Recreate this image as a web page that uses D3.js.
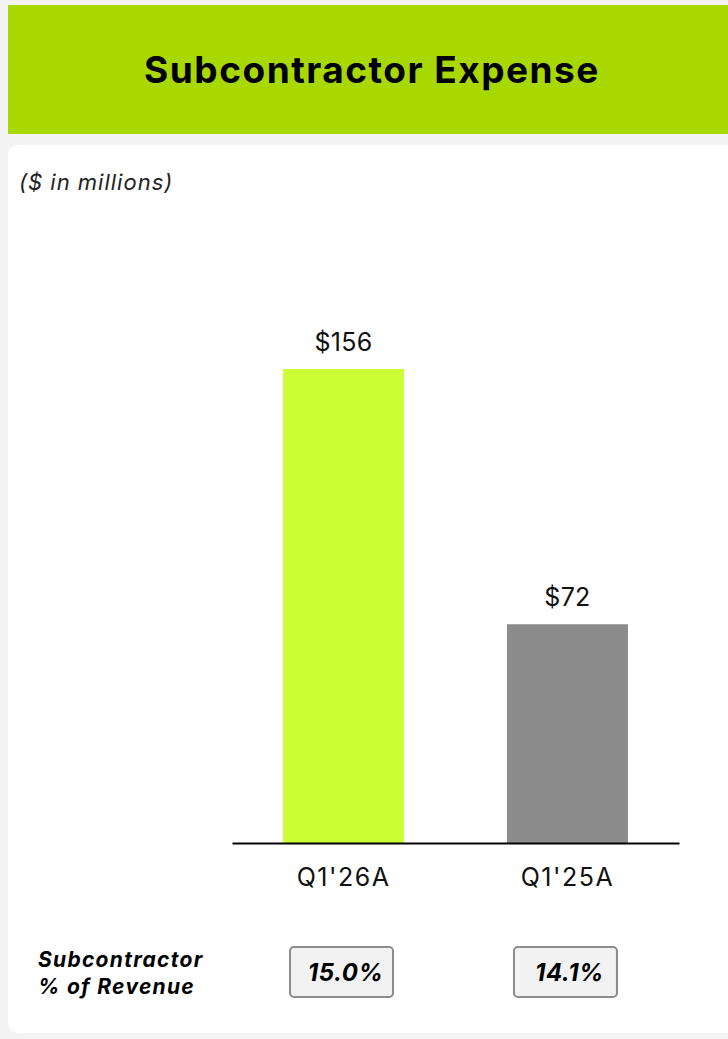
<!DOCTYPE html>
<html>
<head>
<meta charset="utf-8">
<script src="https://cdn.jsdelivr.net/npm/d3@7"></script>
<style>
  html, body { margin: 0; padding: 0; background: #f4f4f4; }
  svg { display: block; }
</style>
</head>
<body>
<script>
const width = 728;
const height = 1039;
const fontFamily = "Inter, 'Noto Sans', sans-serif";

const categories = ["Q1'26A", "Q1'25A"];
const values = [156, 72];
const valueLabels = ["$156", "$72"];
const pctOfRevenue = ["15.0%", "14.1%"];
const barColors = ["#ccff33", "#8c8c8c"];

const headerColor = "#a8d800";

const svg = d3.select("body").append("svg")
    .attr("width", width)
    .attr("height", height);

// header band
svg.append("rect")
    .attr("x", 8).attr("y", 5)
    .attr("width", width - 8).attr("height", 129)
    .attr("fill", headerColor);

svg.append("text")
    .attr("x", 372).attr("y", 83)
    .attr("text-anchor", "middle")
    .attr("font-family", fontFamily)
    .attr("font-weight", 700)
    .attr("font-size", 37)
    .attr("letter-spacing", 1.5)
    .attr("fill", "#000")
    .text("Subcontractor Expense");

// white card
svg.append("rect")
    .attr("x", 8).attr("y", 145)
    .attr("width", width + 10).attr("height", 888)
    .attr("rx", 10)
    .attr("fill", "#fff");

svg.append("text")
    .attr("x", 19).attr("y", 190)
    .attr("font-family", fontFamily)
    .attr("font-style", "italic")
    .attr("font-size", 22)
    .attr("letter-spacing", 1)
    .attr("fill", "#222")
    .text("($ in millions)");

// chart scales
const baseline = 843;
const xScale = d3.scaleBand()
    .domain(categories)
    .range([232, 679])
    .paddingInner(0.46)
    .paddingOuter(0.228);

const yScale = d3.scaleLinear()
    .domain([0, 156])
    .range([baseline, 369]);

const g = svg.append("g");

g.selectAll("rect.bar")
    .data(values)
    .join("rect")
    .attr("class", "bar")
    .attr("x", (d, i) => xScale(categories[i]))
    .attr("y", d => yScale(d))
    .attr("width", xScale.bandwidth())
    .attr("height", d => baseline - yScale(d))
    .attr("fill", (d, i) => barColors[i]);

g.selectAll("text.val")
    .data(values)
    .join("text")
    .attr("class", "val")
    .attr("x", (d, i) => xScale(categories[i]) + xScale.bandwidth() / 2)
    .attr("y", d => yScale(d) - 18)
    .attr("text-anchor", "middle")
    .attr("font-family", fontFamily)
    .attr("font-size", 25)
    .attr("letter-spacing", 0.3)
    .attr("fill", "#111")
    .text((d, i) => valueLabels[i]);

// axis line + category labels
const xAxis = d3.axisBottom(xScale).tickSize(0).tickPadding(25);
const axisG = svg.append("g")
    .attr("transform", `translate(0,${baseline})`)
    .call(xAxis);
axisG.select(".domain").attr("stroke", "#000").attr("stroke-width", 2);
axisG.selectAll(".tick text")
    .attr("font-family", fontFamily)
    .attr("font-size", 25)
    .attr("letter-spacing", 1.5)
    .attr("fill", "#111");

// % of revenue row
svg.append("text")
    .attr("font-family", fontFamily)
    .attr("font-style", "italic")
    .attr("font-weight", 700)
    .attr("font-size", 21)
    .attr("letter-spacing", 1.3)
    .attr("fill", "#000")
    .selectAll("tspan")
    .data(["Subcontractor", "% of Revenue"])
    .join("tspan")
    .attr("x", 38)
    .attr("y", (d, i) => 967 + i * 27)
    .text(d => d);

const boxW = 103;
const boxes = svg.selectAll("g.pct")
    .data(pctOfRevenue)
    .join("g")
    .attr("class", "pct")
    .attr("transform", (d, i) => `translate(${xScale(categories[i]) + xScale.bandwidth() / 2},0)`);

boxes.append("rect")
    .attr("x", -boxW / 2 - 2)
    .attr("y", 947)
    .attr("width", boxW)
    .attr("height", 50)
    .attr("rx", 4)
    .attr("fill", "#f2f2f2")
    .attr("stroke", "#8c8c8c")
    .attr("stroke-width", 2);

boxes.append("text")
    .attr("x", 2)
    .attr("y", 981)
    .attr("text-anchor", "middle")
    .attr("font-family", fontFamily)
    .attr("font-style", "italic")
    .attr("font-weight", 700)
    .attr("font-size", 24)
    .attr("letter-spacing", 0.5)
    .attr("fill", "#000")
    .text(d => d);
</script>
</body>
</html>
